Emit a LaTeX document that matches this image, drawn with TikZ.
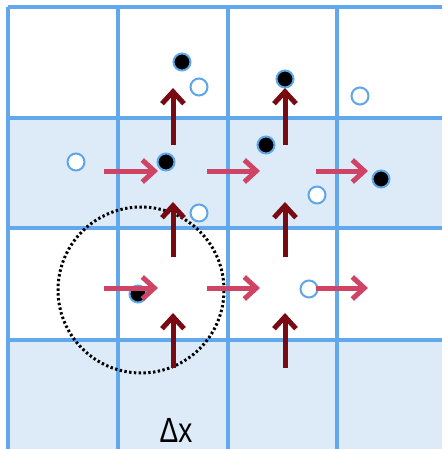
\documentclass[tikz,border=0pt]{standalone}
\usepackage{fontspec}
\setmainfont{Liberation Sans}
\usetikzlibrary{arrows.meta}
\definecolor{gridblue}{HTML}{62A8EC}
\definecolor{cellblue}{HTML}{DDEBF9}
\definecolor{pinkarrow}{HTML}{CF4465}
\definecolor{darkarrow}{HTML}{7A0A12}
\definecolor{ringblue}{HTML}{5FA6E8}
\tikzset{
  gridline/.style={draw=gridblue, line width=3.5pt},
  harrow/.style={draw=pinkarrow, line width=5pt, -{Straight Barb[length=12pt,width=22pt]}},
  varrow/.style={draw=darkarrow, line width=5pt, -{Straight Barb[length=12pt,width=22pt]}},
  blackdot/.style={circle, fill=black, draw=ringblue, line width=2pt, minimum size=17pt, inner sep=0pt},
  whitedot/.style={circle, fill=white, draw=ringblue, line width=2pt, minimum size=17pt, inner sep=0pt},
  region/.style={draw=black, line width=3pt, dash pattern=on 2.4pt off 2.4pt},
}
\begin{document}
\begin{tikzpicture}[x=1pt,y=-1pt]
\useasboundingbox (0,0) rectangle (442,449);
\fill[white] (0,0) rectangle (442,449);
% shaded rows
\fill[cellblue] (8,118) rectangle (442,228);
\fill[cellblue] (8,340) rectangle (442,449);
% grid
\draw[gridline] (8,7) -- (442,7);
\foreach \y in {118,228,340} \draw[gridline] (8,\y) -- (442,\y);
\foreach \x in {8,118,228,337} \draw[gridline] (\x,7) -- (\x,449);
% dotted region
\node[circle, minimum size=166pt, inner sep=0pt, region] (reg) at (141,290) {};
% particles
\node[blackdot] (b1) at (182,62) {};
\node[blackdot] (b2) at (285,79) {};
\node[blackdot] (b3) at (166,162) {};
\node[blackdot] (b4) at (266,145) {};
\node[blackdot] (b5) at (381,179) {};
\node[blackdot] (b6) at (138,294) {};
\node[whitedot] (w1) at (199,87) {};
\node[whitedot] (w2) at (360,96) {};
\node[whitedot] (w3) at (76,162) {};
\node[whitedot] (w4) at (199,213) {};
\node[whitedot] (w5) at (317,195) {};
\node[whitedot] (w6) at (309,289) {};
% flux arrows
\foreach \x [count=\i] in {173,285} {
  \foreach \ya/\yb [count=\j] in {145/88,257/202,368/313} {
    \coordinate (vs\i\j) at (\x,\ya);
    \coordinate (ve\i\j) at (\x,\yb);
    \draw[varrow] (vs\i\j) -- (ve\i\j);
  }
}
\foreach \y [count=\i] in {171,288} {
  \foreach \xa/\xb [count=\j] in {104/158,207/260,316/368} {
    \coordinate (hs\i\j) at (\xa,\y);
    \coordinate (he\i\j) at (\xb,\y);
    \draw[harrow] (hs\i\j) -- (he\i\j);
  }
}
% label
\node[anchor=base, font=\fontsize{35}{35}\selectfont, inner sep=0pt, text depth=0pt] (dx) at (176,442) {\scalebox{0.8}[1]{Δx}};
\end{tikzpicture}
\end{document}
